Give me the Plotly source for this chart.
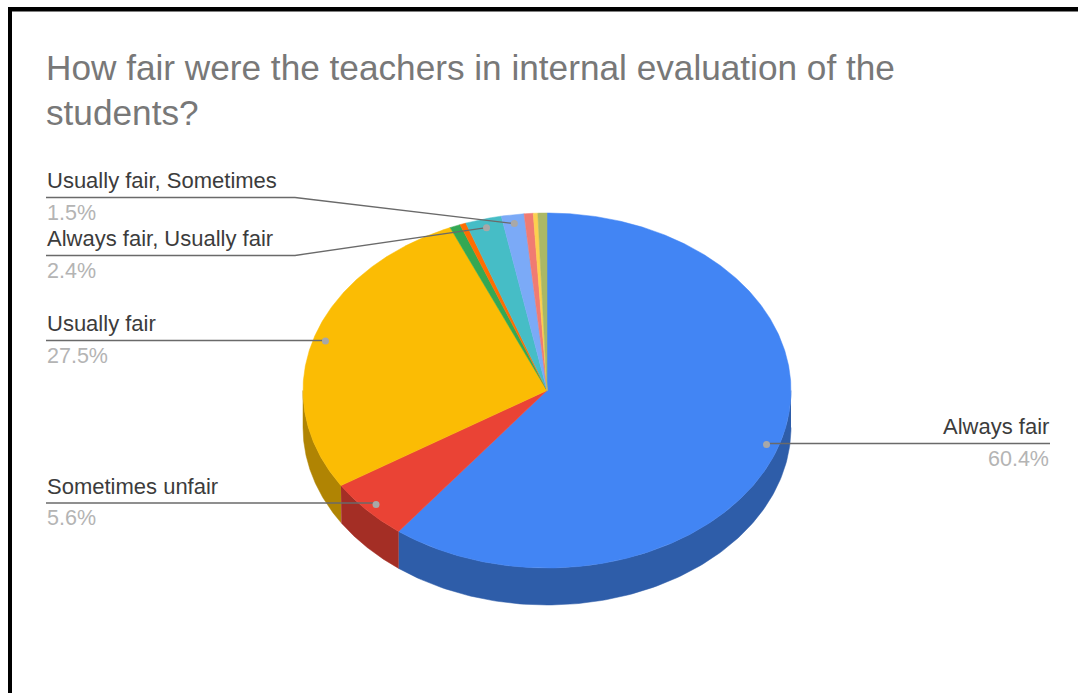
import numpy as np
import plotly.graph_objects as go

# ---- data ----
labels = ["Always fair", "Sometimes unfair", "Usually fair", "", "",
          "Always fair, Usually fair", "Usually fair, Sometimes", "", "", ""]
values = [60.4, 5.6, 27.5, 0.7, 0.4, 2.4, 1.5, 0.6, 0.3, 0.6]
top_colors = ["#4285f4", "#ea4335", "#fbbc04", "#34a853", "#ff6d01",
              "#46bdc6", "#7baaf7", "#f07b72", "#fcd04f", "#abb865"]
side_colors = ["#2e5da9", "#a42e25", "#b08403", "#247539", "#b24c01",
               "#31848b", "#5677ac", "#a8564f", "#b09237", "#7d894a"]
title_lines = ["How fair were the teachers in internal evaluation of the", "students?"]

# ---- layout of the tilted pie (pixel-sized axes) ----
W, H = 1078, 693
CX, CY, RX, RY, DEPTH = 547, 390.5, 244, 177.5, 37
DOT_R = 0.95
LEFT_X, RIGHT_X, BEND_X = 46, 1050, 295
FONT = "Liberation Sans"
label_rows = {"Usually fair, Sometimes": 197.5, "Always fair, Usually fair": 255.5,
              "Usually fair": 340.5, "Sometimes unfair": 503, "Always fair": 443.5}
bent = {"Usually fair, Sometimes", "Always fair, Usually fair"}


def pt(theta, r=1.0, dy=0.0):
    return CX + RX * r * np.sin(theta), CY - RY * r * np.cos(theta) + dy


total = sum(values)
edges = np.concatenate([[0], np.cumsum(values)]) / total * 2 * np.pi
fig = go.Figure()

# side wall: only the part of the rim facing the viewer
for i in range(len(values)):
    a, b = max(edges[i], np.pi / 2), min(edges[i + 1], 3 * np.pi / 2)
    if b <= a:
        continue
    t = np.linspace(a, b, 120)
    x0, y0 = pt(t)
    x1, y1 = pt(t[::-1], dy=DEPTH)
    fig.add_trace(go.Scatter(x=np.r_[x0, x1], y=np.r_[y0, y1], mode="lines", fill="toself",
                             fillcolor=side_colors[i], line=dict(color=side_colors[i], width=0.5),
                             hoverinfo="skip", showlegend=False))

# top face
for i in range(len(values)):
    t = np.linspace(edges[i], edges[i + 1], max(8, int(values[i] * 8)))
    x, y = pt(t)
    fig.add_trace(go.Scatter(x=np.r_[CX, x, CX], y=np.r_[CY, y, CY], mode="lines", fill="toself",
                             fillcolor=top_colors[i], line=dict(color=top_colors[i], width=0.5),
                             hoverinfo="skip", showlegend=False))

# leaders and labels
annotations = []
for i, name in enumerate(labels):
    if not name:
        continue
    mid = (edges[i] + edges[i + 1]) / 2
    dx, dy = pt(mid, DOT_R)
    ly = label_rows[name]
    right = mid < np.pi
    if name in bent:
        lx, ly_pts = [LEFT_X, BEND_X, dx], [ly, ly, dy]
    elif right:
        lx, ly_pts = [RIGHT_X, dx], [ly, ly]
    else:
        lx, ly_pts = [LEFT_X, dx], [ly, ly]
    fig.add_trace(go.Scatter(x=lx, y=ly_pts, mode="lines", line=dict(color="#6a6a6a", width=1.3),
                             hoverinfo="skip", showlegend=False))
    fig.add_trace(go.Scatter(x=[dx], y=[dy], mode="markers",
                             marker=dict(color="#a8a8a8", size=7), hoverinfo="skip", showlegend=False))
    ax = RIGHT_X if right else LEFT_X
    anchor = "right" if right else "left"
    shift = 1 if right else -1
    annotations.append(dict(x=ax, y=ly - 17, xref="x", yref="y", text=name, showarrow=False,
                            xanchor=anchor, yanchor="middle", xshift=shift,
                            font=dict(family=FONT, size=22, color="#3c3c3c")))
    annotations.append(dict(x=ax, y=ly + 15, xref="x", yref="y", text=f"{values[i]}%", showarrow=False,
                            xanchor=anchor, yanchor="middle", xshift=shift,
                            font=dict(family=FONT, size=21.5, color="#b4b4b4")))

for line, y in zip(title_lines, [67.5, 112.5]):
    annotations.append(dict(x=LEFT_X, y=y, xref="x", yref="y", text=line, showarrow=False,
                            xanchor="left", yanchor="middle", xshift=-2,
                            font=dict(family=FONT, size=35.2, color="#787878")))

# black frame of the screenshot
shapes = [
    dict(type="line", xref="x", yref="y", x0=8, x1=W, y0=9.3, y1=9.3, line=dict(color="black", width=4.5)),
    dict(type="line", xref="x", yref="y", x0=10, x1=10, y0=7, y1=H, line=dict(color="black", width=4)),
]

fig.update_layout(
    width=W, height=H, margin=dict(l=0, r=0, t=0, b=0), paper_bgcolor="white", plot_bgcolor="white",
    xaxis=dict(range=[0, W], visible=False, fixedrange=True),
    yaxis=dict(range=[H, 0], visible=False, fixedrange=True),
    annotations=annotations, shapes=shapes, showlegend=False,
)
fig.write_html("out.html", config={"displayModeBar": False},
               post_script="document.body.style.margin='0';document.body.style.overflow='hidden';")
